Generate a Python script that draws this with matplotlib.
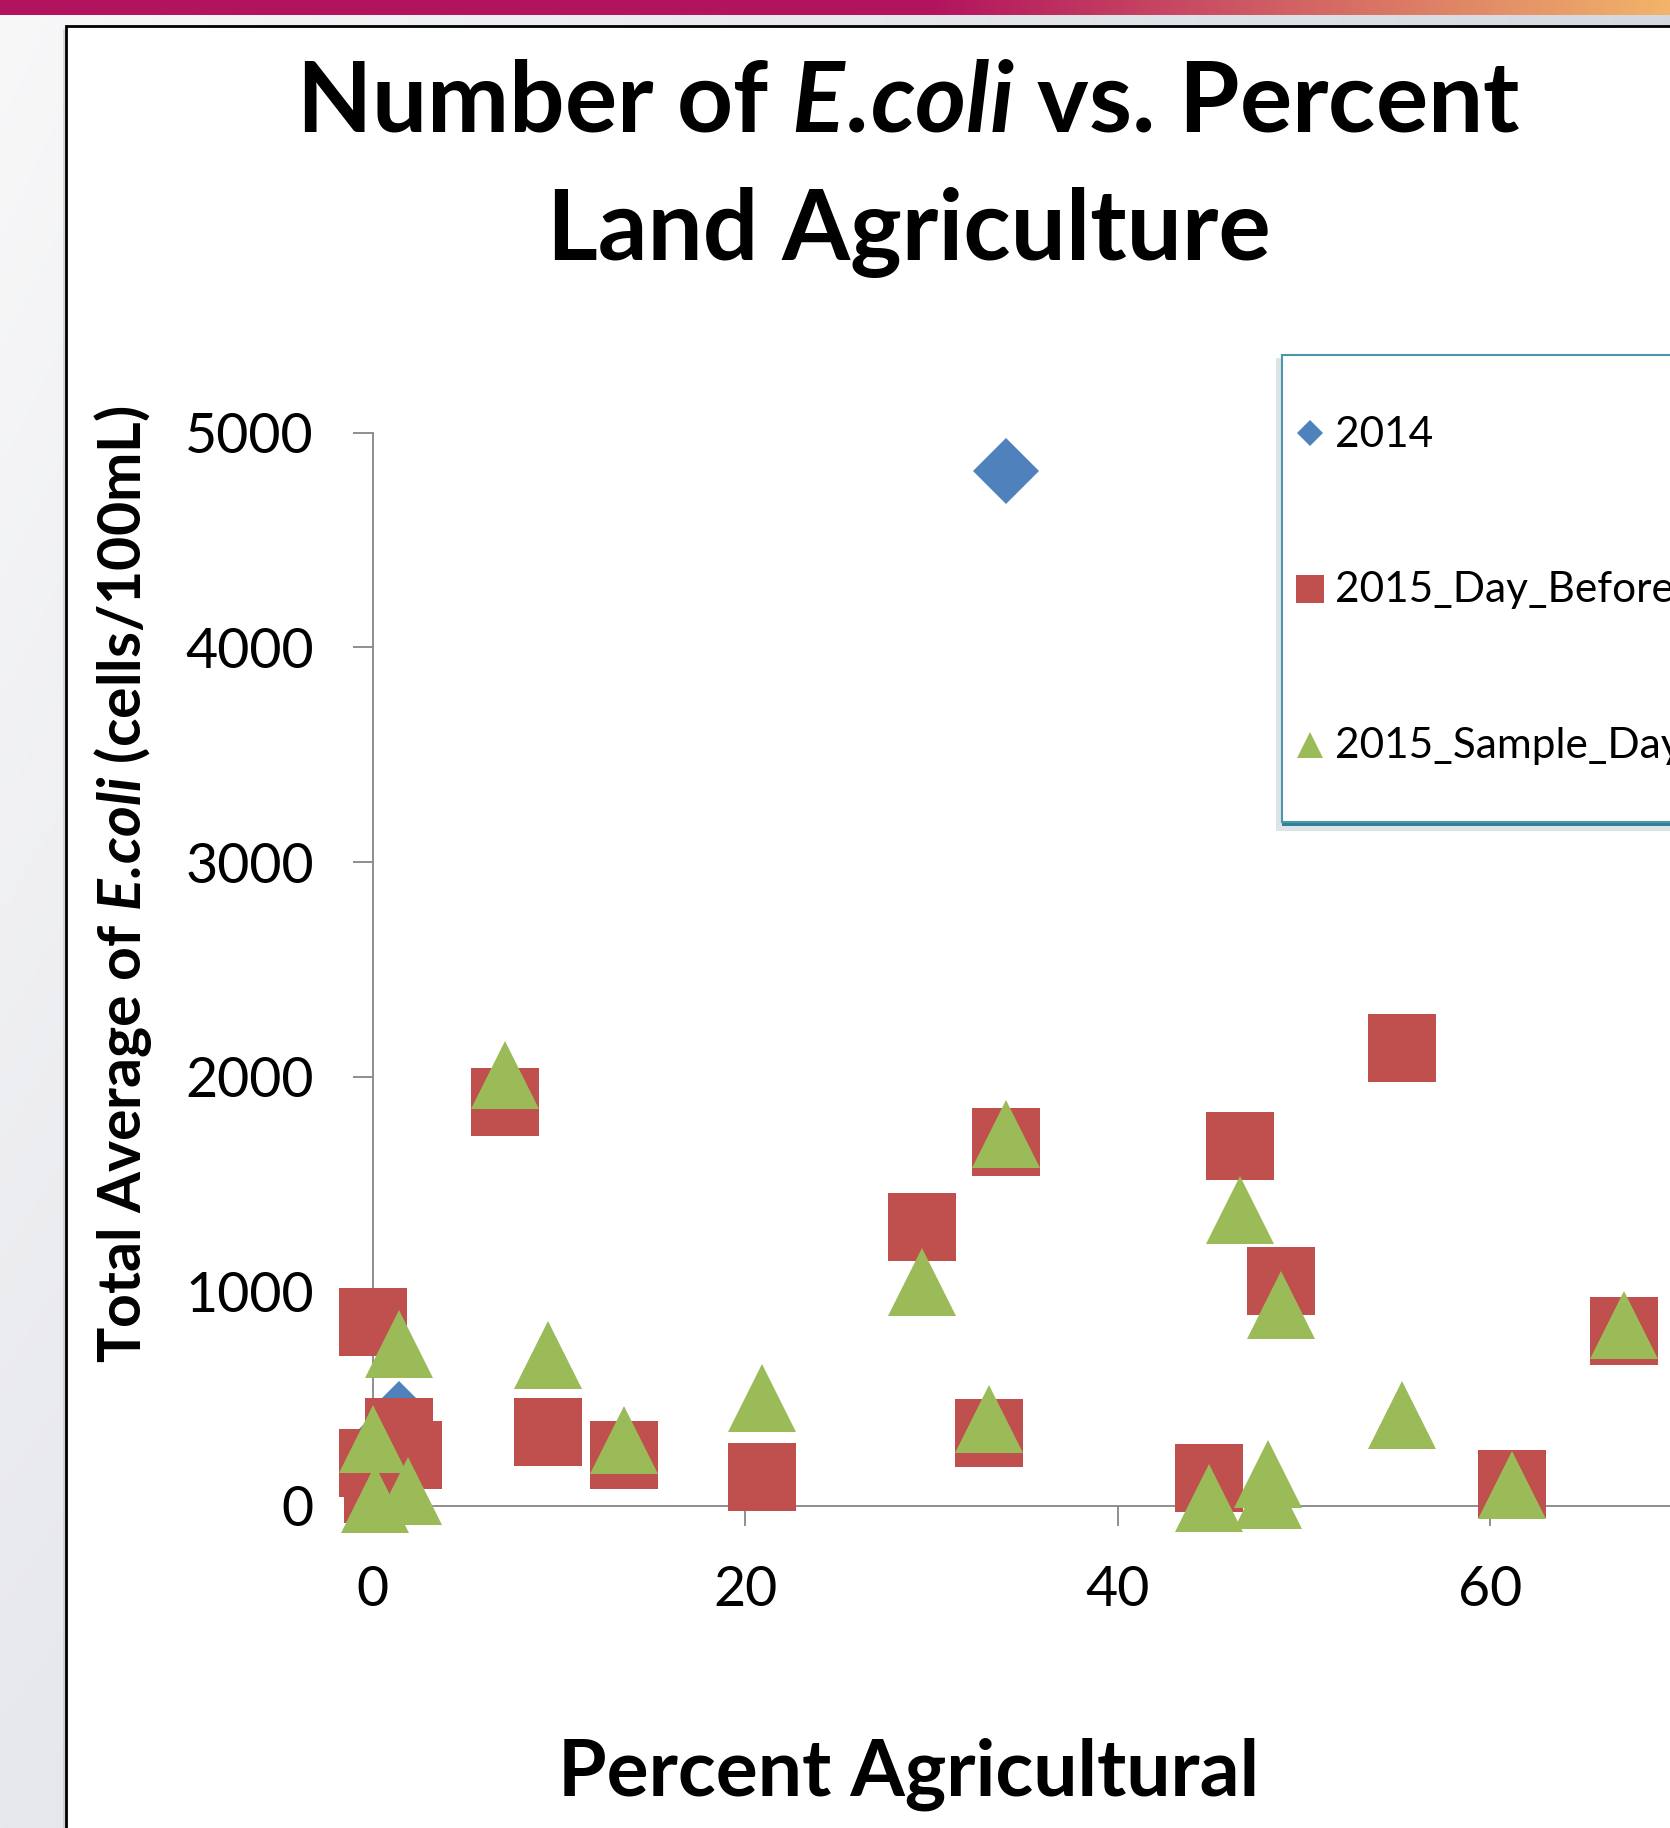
import numpy as np
import matplotlib
matplotlib.use("Agg")
import matplotlib.pyplot as plt
from matplotlib.lines import Line2D
from matplotlib.patches import Rectangle

# ---------------------------------------------------------------- data
pct_2014 = [34.0, 1.4, 0.0]
ecoli_2014 = [4820, 427, 270]

pct_day_before = [0.0, 7.1, 1.9, 1.4, 0.0, 0.3, 9.4, 13.5, 20.9, 29.5,
                  34.0, 33.1, 46.6, 48.8, 55.3, 44.9, 61.2, 67.2]
ecoli_day_before = [856, 1884, 237, 343, 200, 77, 346, 239, 136, 1298,
                    1694, 341, 1678, 1050, 2134, 132, 102, 815]

pct_sample_day = [1.4, 0.0, 0.1, 1.9, 7.1, 9.4, 13.5, 20.9, 29.5, 34.0,
                  33.1, 46.6, 48.8, 55.3, 44.9, 48.1, 48.1, 61.2, 67.2]
ecoli_sample_day = [754, 310, 34, 68, 2007, 703, 309, 503, 1043, 1735,
                    407, 1377, 936, 423, 35, 150, 53, 100, 841]

series_names = ["2014", "2015_Day_Before", "2015_Sample_Day"]
x_ticks = [0, 20, 40, 60, 80]
y_ticks = [0, 1000, 2000, 3000, 4000, 5000]

BLUE, RED, GREEN = "#4F81BD", "#C0504D", "#9BBB59"

# ---------------------------------------------------------------- figure
W, H, DPI = 1670, 1828, 100
plt.rcParams["font.family"] = ["Lato", "DejaVu Sans"]
plt.rcParams["mathtext.fontset"] = "custom"
plt.rcParams["mathtext.it"] = "Lato:italic:bold"
plt.rcParams["mathtext.rm"] = "Lato:bold"
plt.rcParams["mathtext.bf"] = "Lato:bold"

fig = plt.figure(figsize=(W / DPI, H / DPI), dpi=DPI)


def fx(px):
    return px / W


def fy(py):
    return 1 - py / H


# slide background: soft gray gradient
bg = fig.add_axes([0, 0, 1, 1], zorder=-10)
gx = np.linspace(0, 1, 200)[None, :, None]
gy = np.linspace(0, 1, 200)[:, None, None]
tl = np.array([248, 248, 249]) / 255
tr = np.array([212, 216, 224]) / 255
bl = np.array([231, 232, 236]) / 255
br = np.array([210, 213, 221]) / 255
grad = (tl * (1 - gx) * (1 - gy) + tr * gx * (1 - gy)
        + bl * (1 - gx) * gy + br * gx * gy)
bg.imshow(grad, extent=[0, W, H, 0], aspect="auto", interpolation="bilinear")

# top accent bar: magenta fading to orange on the right
bar_x = np.linspace(0, W, 400)
t = np.clip((bar_x - 930) / (W - 930), 0, 1)[:, None]
c0 = np.array([178, 19, 94]) / 255
c1 = np.array([242, 180, 106]) / 255
bar = (c0 * (1 - t) + c1 * t)[None, :, :]
bg.imshow(bar, extent=[0, W, 15, 0], aspect="auto", interpolation="bilinear")
bg.set_xlim(0, W)
bg.set_ylim(H, 0)
bg.axis("off")

# chart area: white panel with dark frame and faint shadow
fig.add_artist(Rectangle((fx(63), -0.05), 2, fy(29) + 0.05,
                         transform=fig.transFigure, facecolor="#BDBDBD",
                         edgecolor="none", alpha=0.5, zorder=-6))
fig.add_artist(Rectangle((fx(66), -0.05), 2, fy(26) + 0.05,
                         transform=fig.transFigure, facecolor="white",
                         edgecolor="black", linewidth=2.0, zorder=-5))

# ---------------------------------------------------------------- axes
x0_px, y0_px = 372.7, 1506.0
px_per_x = 18.62
px_per_y = (1506.0 - 432.7) / 5000
ax = fig.add_axes([fx(x0_px), (H - y0_px) / H,
                   80 * px_per_x / W, 5000 * px_per_y / H])
ax.set_facecolor("none")
ax.set_xlim(0, 80)
ax.set_ylim(0, 5000)
ax.set_xticks(x_ticks)
ax.set_yticks(y_ticks)
for side in ("top", "right"):
    ax.spines[side].set_visible(False)
for side in ("left", "bottom"):
    ax.spines[side].set_color("#868686")
    ax.spines[side].set_linewidth(1.3)
ax.tick_params(axis="both", direction="out", length=14.4, width=1.3,
               color="#868686", labelsize=40, labelcolor="black")
ax.tick_params(axis="x", pad=28)
ax.tick_params(axis="y", pad=28)

marker_kw = dict(linestyle="none", markeredgewidth=0, clip_on=False)
ax.plot(pct_2014, ecoli_2014, marker="D", markersize=33.6, color=BLUE,
        label=series_names[0], zorder=3, **marker_kw)
ax.plot(pct_day_before, ecoli_day_before, marker="s", markersize=49,
        color=RED, label=series_names[1], zorder=4, **marker_kw)
ax.plot(pct_sample_day, ecoli_sample_day, marker="^", markersize=49,
        color=GREEN, label=series_names[2], zorder=5, **marker_kw)

# ---------------------------------------------------------------- text
fig.text(fx(908.5), fy(131.8), r"Number of $\mathit{E.\!coli}$ vs. Percent",
         ha="center", va="baseline", fontsize=70.5, fontweight="bold")
fig.text(fx(908.5), fy(260), "Land Agriculture",
         ha="center", va="baseline", fontsize=70.5, fontweight="bold")
fig.text(fx(909), fy(1796), "Percent Agricultural",
         ha="center", va="baseline", fontsize=56.5, fontweight="bold")
fig.text(fx(123), fy(884.5),
         r"Total Average of $\mathit{E.\!coli}$ (cells/100mL)",
         ha="center", va="center", rotation=90, fontsize=42.5,
         fontweight="bold")

# ---------------------------------------------------------------- legend
lx, ly_top, ly_bot = 1281.7, 355.0, 821.7
fig.add_artist(Rectangle((fx(lx - 6), fy(ly_bot + 9)), 1,
                         (ly_bot - ly_top + 6) / H,
                         transform=fig.transFigure, facecolor="#9FB4BC",
                         edgecolor="none", alpha=0.35, zorder=6))
fig.add_artist(Rectangle((fx(lx), fy(ly_bot + 4)), 1, 4 / H,
                         transform=fig.transFigure, facecolor="#2E8299",
                         edgecolor="none", zorder=6.5))
fig.add_artist(Rectangle((fx(lx), fy(ly_bot)), 1, (ly_bot - ly_top) / H,
                         transform=fig.transFigure, facecolor="white",
                         edgecolor="#4E95AB", linewidth=1.5, zorder=7))

legend_rows = [
    (series_names[0], "D", 13.7, BLUE, 433.0, 447.3),
    (series_names[1], "s", 20.6, RED, 589.0, 601.7),
    (series_names[2], "^", 19.4, GREEN, 745.0, 757.7),
]
for name, mk, ms, col, my, base in legend_rows:
    fig.add_artist(Line2D([fx(1310.3)], [fy(my)], marker=mk, markersize=ms,
                          color=col, markeredgewidth=0, linestyle="none",
                          transform=fig.transFigure, zorder=8))
    fig.text(fx(1335.0), fy(base), name, ha="left", va="baseline",
             fontsize=30.5, zorder=8)

fig.savefig("out.png", dpi=DPI)
